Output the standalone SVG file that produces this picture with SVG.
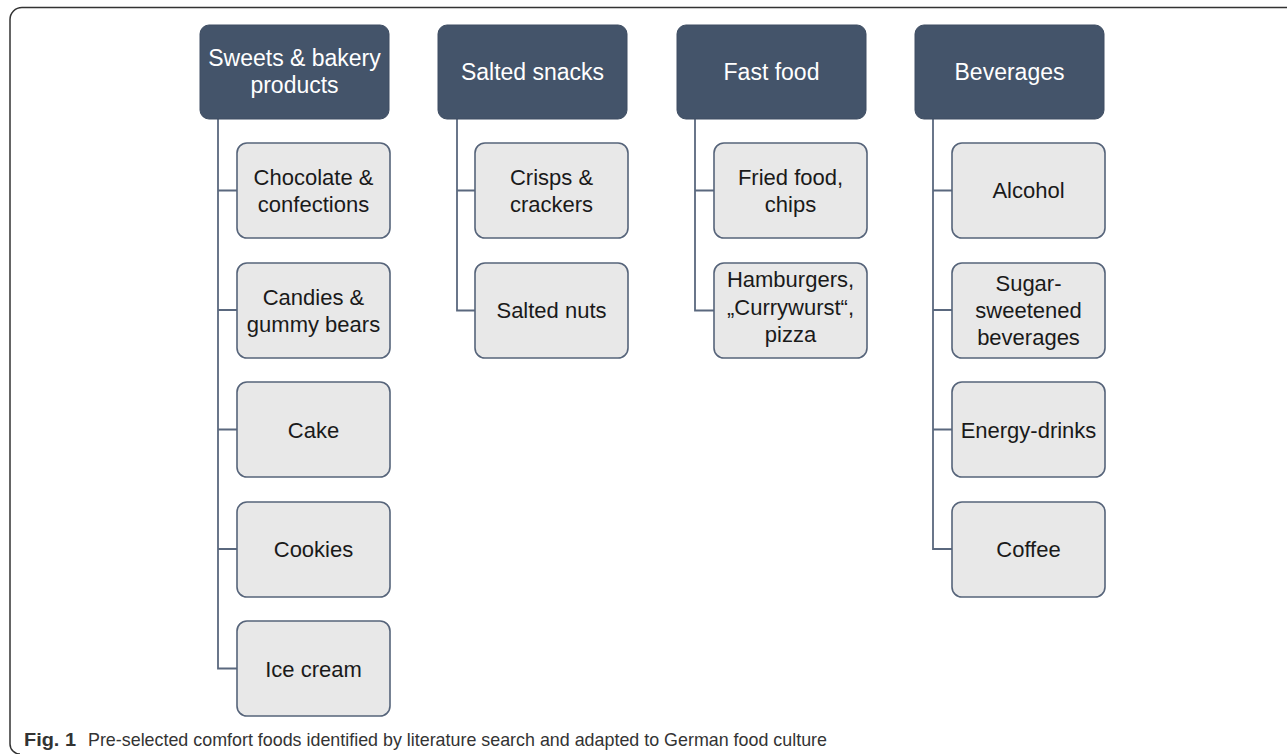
<svg xmlns="http://www.w3.org/2000/svg" width="1287" height="754" viewBox="0 0 1287 754">
<style>
.hdr{fill:#44546a;stroke:#3e4d62;stroke-width:1}
.chd{fill:#e8e8e8;stroke:#56647a;stroke-width:1.6}
.ht{font-family:"Liberation Sans",Arial,sans-serif;font-size:23px;fill:#ffffff;text-anchor:middle}
.ct{font-family:"Liberation Sans",Arial,sans-serif;font-size:22px;fill:#1a1a1a;text-anchor:middle}
.con{fill:none;stroke:#5a687e;stroke-width:1.8}
.cap{font-family:"Liberation Sans",Arial,sans-serif;font-size:19px;fill:#333333}
</style>
<rect width="1287" height="754" fill="#ffffff"/>
<path d="M1287,7.5 H22 A12,12 0 0 0 10,19.5 V744 A10,10 0 0 0 20,754" fill="none" stroke="#333333" stroke-width="1.5"/>

<g id="connectors">
<path class="con" d="M218,119 V668.5 H237 M218,190.5 H237 M218,310 H237 M218,429.5 H237 M218,549 H237"/>
<path class="con" d="M457,119 V310.5 H475 M457,190.5 H475"/>
<path class="con" d="M695,119 V310.5 H714 M695,190.5 H714"/>
<path class="con" d="M933,119 V549 H952 M933,190.5 H952 M933,310 H952 M933,429.5 H952"/>
</g>

<g id="h-sweets"><rect class="hdr" x="200" y="25" width="189" height="94" rx="9"/><text class="ht" x="294.5" y="65.5">Sweets &amp; bakery</text><text class="ht" x="294.5" y="92.5">products</text></g>
<g id="h-salted"><rect class="hdr" x="438" y="25" width="189" height="94" rx="9"/><text class="ht" x="532.5" y="79.5">Salted snacks</text></g>
<g id="h-fast"><rect class="hdr" x="677" y="25" width="189" height="94" rx="9"/><text class="ht" x="771.5" y="79.5">Fast food</text></g>
<g id="h-bev"><rect class="hdr" x="915" y="25" width="189" height="94" rx="9"/><text class="ht" x="1009.5" y="79.5">Beverages</text></g>

<g id="c-chocolate"><rect class="chd" x="237" y="143" width="153" height="95" rx="10"/><text class="ct" x="313.5" y="185">Chocolate &amp;</text><text class="ct" x="313.5" y="212">confections</text></g>
<g id="c-candies"><rect class="chd" x="237" y="263" width="153" height="95" rx="10"/><text class="ct" x="313.5" y="304.5">Candies &amp;</text><text class="ct" x="313.5" y="331.5">gummy bears</text></g>
<g id="c-cake"><rect class="chd" x="237" y="382" width="153" height="95" rx="10"/><text class="ct" x="313.5" y="437.5">Cake</text></g>
<g id="c-cookies"><rect class="chd" x="237" y="502" width="153" height="95" rx="10"/><text class="ct" x="313.5" y="557">Cookies</text></g>
<g id="c-icecream"><rect class="chd" x="237" y="621" width="153" height="95" rx="10"/><text class="ct" x="313.5" y="676.5">Ice cream</text></g>

<g id="c-crisps"><rect class="chd" x="475" y="143" width="153" height="95" rx="10"/><text class="ct" x="551.5" y="185">Crisps &amp;</text><text class="ct" x="551.5" y="212">crackers</text></g>
<g id="c-nuts"><rect class="chd" x="475" y="263" width="153" height="95" rx="10"/><text class="ct" x="551.5" y="318">Salted nuts</text></g>

<g id="c-fried"><rect class="chd" x="714" y="143" width="153" height="95" rx="10"/><text class="ct" x="790.5" y="185">Fried food,</text><text class="ct" x="790.5" y="212">chips</text></g>
<g id="c-hamburgers"><rect class="chd" x="714" y="263" width="153" height="95" rx="10"/><text class="ct" x="790.5" y="287">Hamburgers,</text><text class="ct" x="790.5" y="314.5">„Currywurst“,</text><text class="ct" x="790.5" y="342">pizza</text></g>

<g id="c-alcohol"><rect class="chd" x="952" y="143" width="153" height="95" rx="10"/><text class="ct" x="1028.5" y="198">Alcohol</text></g>
<g id="c-sugar"><rect class="chd" x="952" y="263" width="153" height="95" rx="10"/><text class="ct" x="1028.5" y="291">Sugar-</text><text class="ct" x="1028.5" y="318">sweetened</text><text class="ct" x="1028.5" y="345">beverages</text></g>
<g id="c-energy"><rect class="chd" x="952" y="382" width="153" height="95" rx="10"/><text class="ct" x="1028.5" y="437.5">Energy-drinks</text></g>
<g id="c-coffee"><rect class="chd" x="952" y="502" width="153" height="95" rx="10"/><text class="ct" x="1028.5" y="557">Coffee</text></g>

<g id="caption">
<text class="cap" x="24" y="746" font-weight="bold" fill="#222222" textLength="52" lengthAdjust="spacingAndGlyphs">Fig. 1</text>
<text class="cap" x="88" y="746" textLength="739" lengthAdjust="spacingAndGlyphs">Pre-selected comfort foods identified by literature search and adapted to German food culture</text>
</g>
</svg>
